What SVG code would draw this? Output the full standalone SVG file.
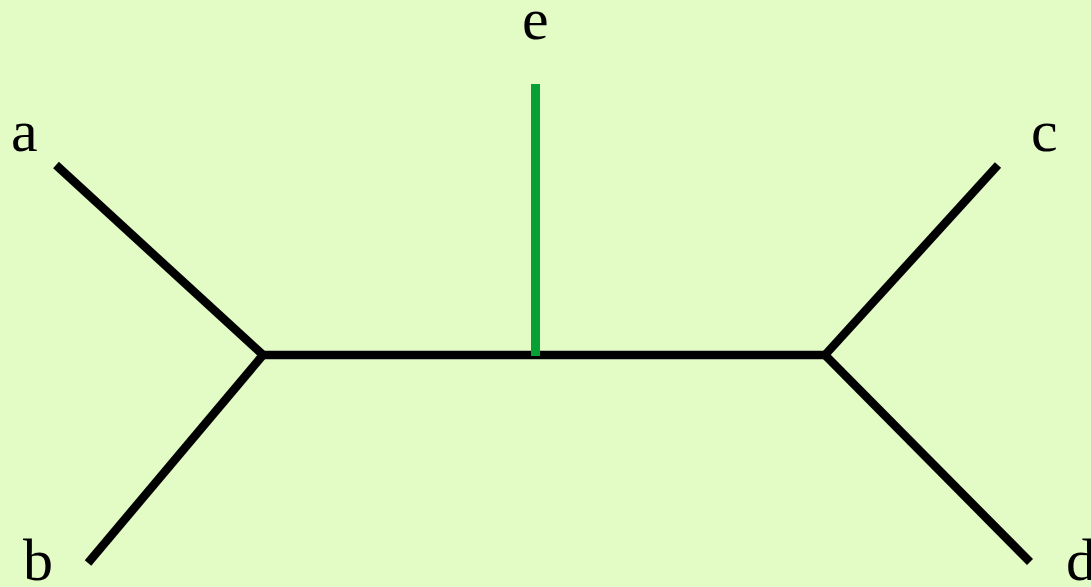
<svg xmlns="http://www.w3.org/2000/svg" width="1091" height="587" viewBox="0 0 1091 587">
<style>
.lbl{font-family:"Liberation Serif","Times New Roman",serif;font-size:60px;fill:#000}
.edge{stroke:#000;stroke-width:8.5;fill:none;stroke-linecap:butt}
.green{stroke:#07a035;stroke-width:9;fill:none}
</style>
<rect width="1091" height="587" fill="#e3fcc6"/>
<g id="connectors">
<line class="edge" x1="56" y1="165" x2="263" y2="355"/>
<line class="edge" x1="88" y1="563" x2="263" y2="355"/>
<line class="edge" x1="259" y1="355" x2="829" y2="355"/>
<line class="edge" x1="998" y1="165" x2="825" y2="355"/>
<line class="edge" x1="1030" y1="562" x2="825" y2="355"/>
<line class="green" x1="535.5" y1="84" x2="535.5" y2="356"/>
</g>
<g id="node-a"><text class="lbl" x="11" y="151">a</text></g>
<g id="node-b"><text class="lbl" x="23" y="580">b</text></g>
<g id="node-c"><text class="lbl" x="1031" y="151">c</text></g>
<g id="node-d"><text class="lbl" x="1066" y="580">d</text></g>
<g id="node-e"><text class="lbl" x="522" y="39">e</text></g>
</svg>
